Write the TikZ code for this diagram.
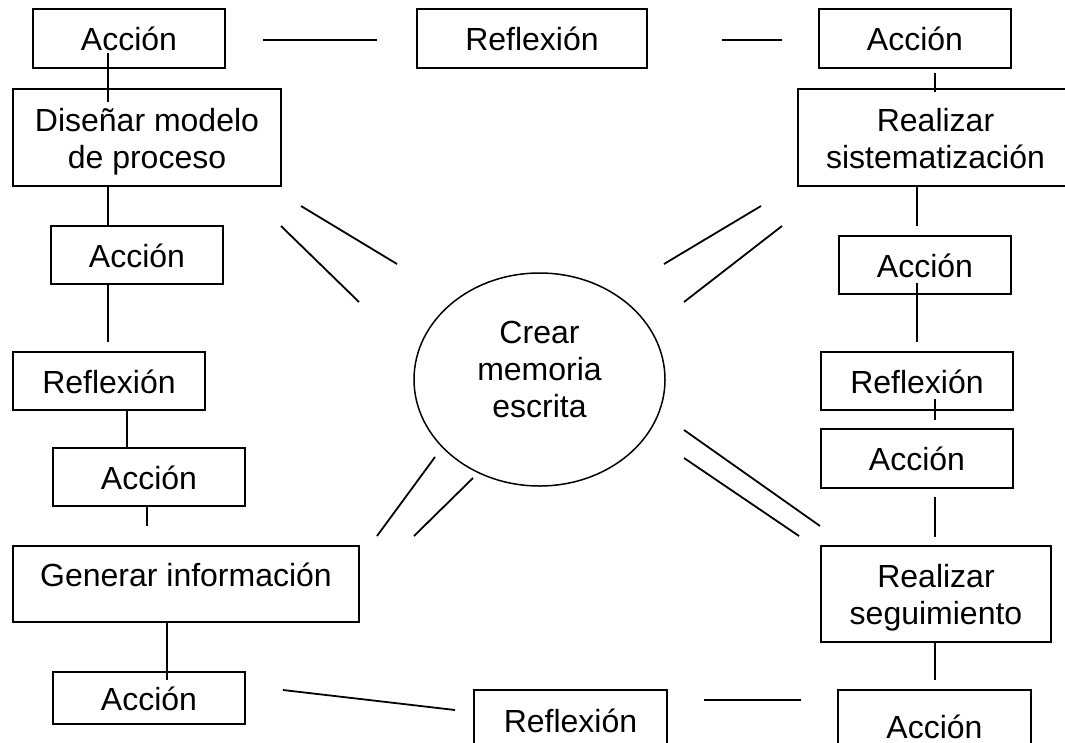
\documentclass[tikz,border=0pt]{standalone}
\usepackage{fontspec}
\setmainfont{Liberation Sans}
\usetikzlibrary{shapes.geometric}
\begin{document}
\begin{tikzpicture}[x=1pt,y=-1pt,
  box/.style={draw, line width=1.8pt, inner sep=0pt, font=\fontsize{32}{37}\selectfont, align=center, text height=29pt, text depth=5pt},
  twoline/.style={text height=66pt, text depth=5pt},
  ln/.style={line width=1.8pt},
  oval/.style={draw, ellipse, line width=1.5pt, inner sep=0pt, font=\fontsize{32}{37}\selectfont, align=center, text height=80pt, text depth=5pt}]
\useasboundingbox (0,0) rectangle (1065,742);
\clip (0,0) rectangle (1065,742);
% boxes
\node[box, minimum width=192pt, minimum height=59pt] (a1) at (129,38.5) {Acción};
\node[box, minimum width=230pt, minimum height=59pt] (r1) at (532,38.5) {Reflexión};
\node[box, minimum width=192pt, minimum height=59pt] (a2) at (915,38.5) {Acción};
\node[box, twoline, minimum width=268pt, minimum height=97pt] (d) at (147,137.5) {Diseñar modelo\\de proceso};
\node[box, twoline, minimum width=275pt, minimum height=97pt] (s) at (935.5,137.5) {Realizar\\sistematización};
\node[box, minimum width=172pt, minimum height=58pt] (a3) at (137,255) {Acción};
\node[box, minimum width=172pt, minimum height=58pt] (a4) at (925,265) {Acción};
\node[box, minimum width=192pt, minimum height=58pt] (r2) at (109,381) {Reflexión};
\node[box, minimum width=192pt, minimum height=58pt] (r3) at (917,381) {Reflexión};
\node[box, minimum width=192pt, minimum height=58pt] (a5) at (149,477) {Acción};
\node[box, minimum width=192pt, minimum height=59pt] (a6) at (917,458.5) {Acción};
\node[box, minimum width=346pt, minimum height=76pt, text depth=24pt] (g) at (186,584) {Generar información};
\node[box, twoline, text height=65pt, minimum width=230pt, minimum height=96pt] (sg) at (936,594) {Realizar\\seguimiento};
\node[box, minimum width=192pt, minimum height=52pt] (a7) at (149,698) {Acción};
\node[box, minimum width=193pt, minimum height=58pt, text height=31pt] (r4) at (570.5,719) {Reflexión};
\node[box, minimum width=193pt, minimum height=58pt, text height=39pt, text depth=0pt] (a8) at (934.5,719) {Acción};
\node[oval, minimum width=251pt, minimum height=213pt] (m) at (539.5,379.5) {Crear\\memoria\\escrita};
% connector end points
\coordinate (v1a) at (108,53);  \coordinate (v1b) at (108,102);
\coordinate (v2a) at (108,186); \coordinate (v2b) at (108,226);
\coordinate (v3a) at (108,284); \coordinate (v3b) at (108,342);
\coordinate (v4a) at (127,410); \coordinate (v4b) at (127,448);
\coordinate (v5a) at (147,507); \coordinate (v5b) at (147,526);
\coordinate (v6a) at (167,622); \coordinate (v6b) at (167,680);
\coordinate (w1a) at (935,73);  \coordinate (w1b) at (935,92);
\coordinate (w2a) at (917,186); \coordinate (w2b) at (917,226);
\coordinate (w3a) at (917,283); \coordinate (w3b) at (917,342);
\coordinate (w4a) at (935,399); \coordinate (w4b) at (935,420);
\coordinate (w5a) at (935,497); \coordinate (w5b) at (935,537);
\coordinate (w6a) at (935,642); \coordinate (w6b) at (935,680);
\coordinate (h1a) at (263,40);  \coordinate (h1b) at (377,40);
\coordinate (h2a) at (722,40);  \coordinate (h2b) at (782,40);
\coordinate (h3a) at (283,690); \coordinate (h3b) at (455,710);
\coordinate (h4a) at (704,700); \coordinate (h4b) at (801,700);
\coordinate (ul1a) at (301,206); \coordinate (ul1b) at (397,264);
\coordinate (ul2a) at (281,226); \coordinate (ul2b) at (359,302);
\coordinate (ur1a) at (761,206); \coordinate (ur1b) at (664,264);
\coordinate (ur2a) at (782,226); \coordinate (ur2b) at (684,302);
\coordinate (ll1a) at (435,457); \coordinate (ll1b) at (377,536);
\coordinate (ll2a) at (473,478); \coordinate (ll2b) at (414,536);
\coordinate (lr1a) at (684,430); \coordinate (lr1b) at (820,526);
\coordinate (lr2a) at (684,458); \coordinate (lr2b) at (799,536);
% connectors
\foreach \p in {v1,v2,v3,v4,v5,v6,w1,w2,w3,w4,w5,w6,h1,h2,h3,h4,ul1,ul2,ur1,ur2,ll1,ll2,lr1,lr2}
  \draw[ln] (\p a) -- (\p b);
\end{tikzpicture}
\end{document}
